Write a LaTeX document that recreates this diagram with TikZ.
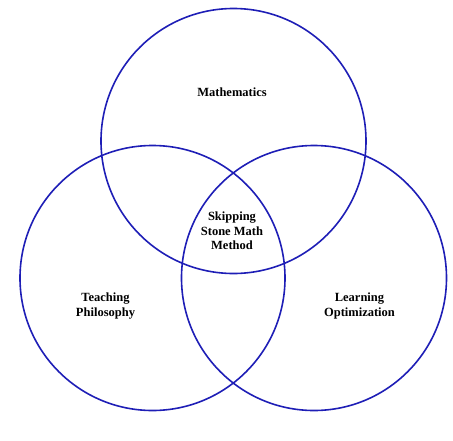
\documentclass[tikz,border=0pt]{standalone}
\usepackage{fontspec}
\setmainfont{Liberation Serif}
\definecolor{vennblue}{RGB}{30,30,182}
\begin{document}
\begin{tikzpicture}[x=1pt,y=-1pt,
  ring/.style={draw=vennblue,line width=1.6pt,circle,minimum size=265pt,inner sep=0pt},
  lbl/.style={font=\fontsize{12.5}{14.5}\selectfont\bfseries,align=center,text=black}]
\useasboundingbox (0,0) rectangle (453,440);
\node[ring] (top) at (233.5,141) {};
\node[ring] (left) at (152.5,278) {};
\node[ring] (right) at (314,278) {};
\node[lbl] (math) at (232,92.5) {Mathematics};
\node[lbl] (core) at (232,231) {Skipping\\Stone Math\\Method};
\node[lbl] (teach) at (105.5,306) {Teaching\\Philosophy};
\node[lbl] (learn) at (359.5,306) {Learning\\Optimization};
\end{tikzpicture}
\end{document}
